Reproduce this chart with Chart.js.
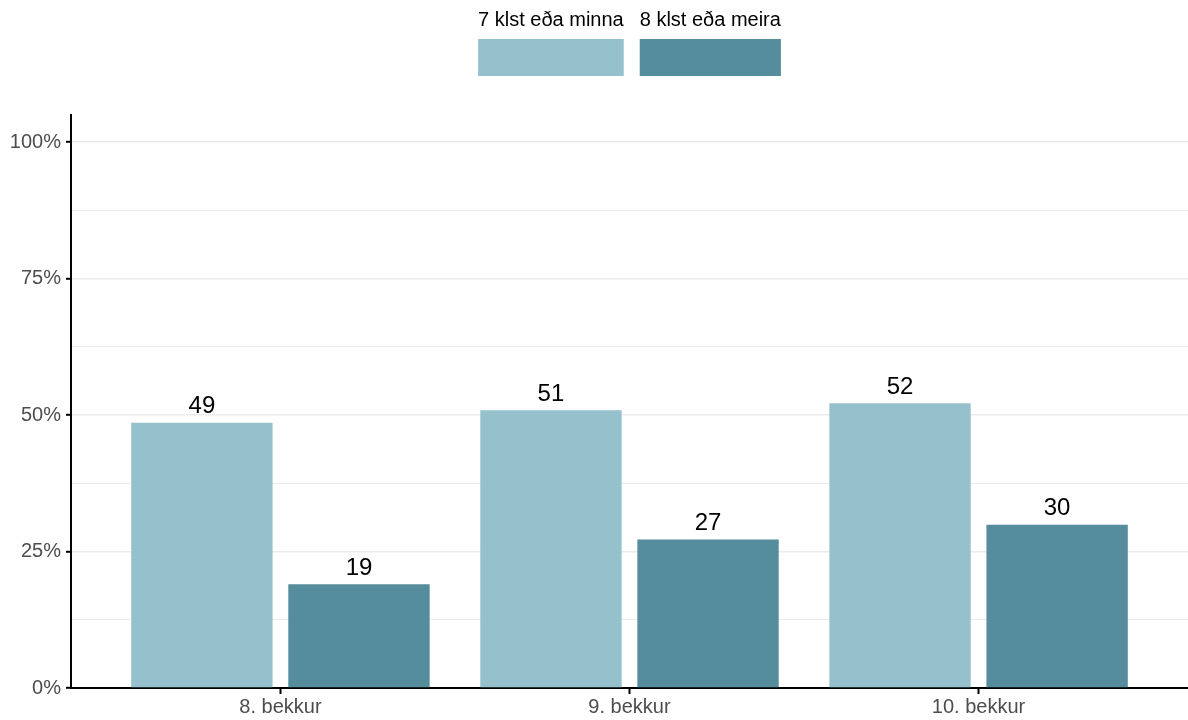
<!DOCTYPE html>
<html>
<head>
<meta charset="utf-8">
<script src="https://cdn.jsdelivr.net/npm/chart.js@4"></script>
<style>
    html, body { margin: 0; padding: 0; background: #fff; }
    #wrap { width: 1188px; height: 720px; position: relative; }
</style>
</head>
<body>
<div id="wrap"><canvas id="chart"></canvas></div>
<script>
// data (percent)
const categories = ['8. bekkur', '9. bekkur', '10. bekkur'];
const seriesNames = ['7 klst eða minna', '8 klst eða meira'];
const shortSleep = [48.6, 50.9, 52.2];
const longSleep = [19.0, 27.2, 29.9];
const yTicks = [0, 12.5, 25, 37.5, 50, 62.5, 75, 87.5, 100];
const colors = ['#95c1cd', '#558d9d'];

const font = "'Liberation Sans', Arial, sans-serif";

function toPoints(values) {
    return values.map((v, i) => ({ x: i + 1, y: v }));
}

// legend on top: label text above each colour key
const topLegend = {
    id: 'topLegend',
    afterDraw(chart) {
        const ctx = chart.ctx;
        const area = chart.chartArea;
        const gap = 16;
        ctx.save();
        ctx.font = '20px ' + font;
        const widths = chart.data.datasets.map(ds => ctx.measureText(ds.label).width);
        const total = widths.reduce((a, b) => a + b, 0) + gap * (widths.length - 1);
        let x = (area.left + area.right) / 2 - total / 2;
        chart.data.datasets.forEach((ds, i) => {
            ctx.fillStyle = '#000';
            ctx.textAlign = 'center';
            ctx.textBaseline = 'alphabetic';
            ctx.fillText(ds.label, x + widths[i] / 2, 26);
            ctx.fillStyle = ds.backgroundColor;
            ctx.fillRect(x, 39, widths[i], 37);
            x += widths[i] + gap;
        });
        ctx.restore();
    }
};

// value labels above bars
const barLabels = {
    id: 'barLabels',
    afterDatasetsDraw(chart) {
        const ctx = chart.ctx;
        ctx.save();
        ctx.font = '24px ' + font;
        ctx.fillStyle = '#000';
        ctx.textAlign = 'center';
        ctx.textBaseline = 'alphabetic';
        chart.data.datasets.forEach((ds, i) => {
            chart.getDatasetMeta(i).data.forEach((bar, j) => {
                ctx.fillText(Math.round(ds.data[j].y), bar.x, bar.y - 9.5);
            });
        });
        ctx.restore();
    }
};

const isMajor = c => c.tick && c.tick.value % 25 === 0;

const ctx = document.getElementById('chart').getContext('2d');
const chart = new Chart(ctx, {
    type: 'bar',
    data: {
        datasets: [
            { label: seriesNames[0], data: toPoints(shortSleep), backgroundColor: colors[0] },
            { label: seriesNames[1], data: toPoints(longSleep), backgroundColor: colors[1] }
        ]
    },
    options: {
        responsive: true,
        maintainAspectRatio: false,
        devicePixelRatio: 1,
        animation: false,
        categoryPercentage: 0.9,
        barPercentage: 0.9,
        layout: { padding: { top: 115, right: 0, left: 0, bottom: 0 } },
        plugins: {
            legend: { display: false },
            tooltip: { enabled: false }
        },
        scales: {
            x: {
                type: 'linear',
                min: 0.4,
                max: 3.6,
                offset: false,
                afterBuildTicks: scale => {
                    scale.ticks = categories.map((c, i) => ({ value: i + 1 }));
                },
                afterFit: scale => { scale.height = 32; },
                grid: {
                    display: true,
                    offset: false,
                    drawOnChartArea: false,
                    drawTicks: true,
                    tickLength: 6,
                    tickColor: '#000',
                    tickWidth: 2
                },
                border: { display: true, color: '#000', width: 2 },
                ticks: {
                    autoSkip: false,
                    maxRotation: 0,
                    padding: 1,
                    color: '#4d4d4d',
                    font: { family: font, size: 20 },
                    callback: v => categories[v - 1] || ''
                }
            },
            y: {
                min: 0,
                max: 105,
                afterBuildTicks: scale => {
                    scale.ticks = yTicks.map(v => ({ value: v }));
                },
                afterFit: scale => { scale.width = 71; },
                grid: {
                    color: '#ebebeb',
                    lineWidth: c => isMajor(c) ? 1.6 : 1,
                    tickColor: c => isMajor(c) ? '#000' : 'rgba(0,0,0,0)',
                    tickLength: 5,
                    tickWidth: 2
                },
                border: { display: true, color: '#000', width: 2 },
                ticks: {
                    padding: 5,
                    color: '#4d4d4d',
                    font: { family: font, size: 20 },
                    callback: v => (v % 25 === 0) ? v + '%' : ''
                }
            }
        }
    },
    plugins: [topLegend, barLabels]
});
</script>
</body>
</html>
